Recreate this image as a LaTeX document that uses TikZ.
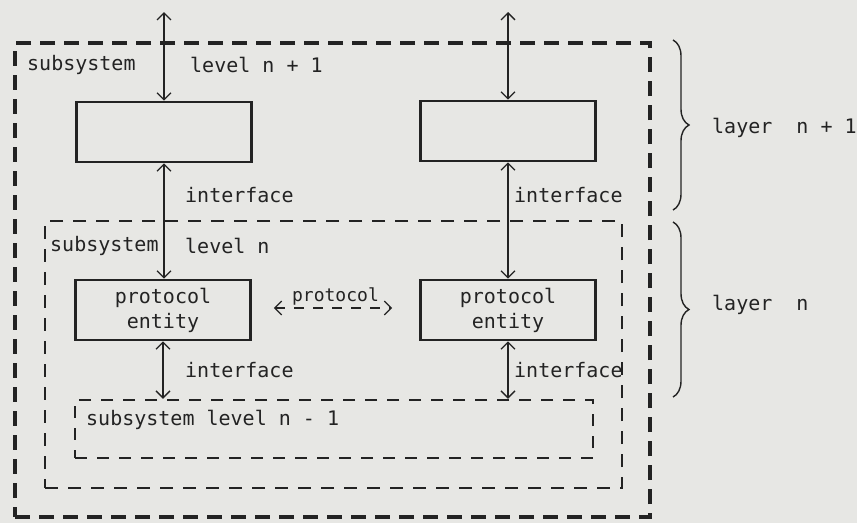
\documentclass[tikz,border=0pt]{standalone}
\usepackage{fontspec}
\setmonofont{DejaVu Sans Mono}
\usetikzlibrary{arrows.meta, positioning, decorations.pathreplacing}
\definecolor{PaperGrey}{RGB}{231,231,228}
\definecolor{InkBlack}{RGB}{35,35,35}

\begin{document}
\begin{tikzpicture}[
    x=1pt, y=-1pt,
    font=\fontsize{20}{25}\selectfont\ttfamily,
    entity/.style={draw=InkBlack, line width=2.6pt, minimum width=175pt, minimum height=60pt, align=center, inner sep=0pt, text=InkBlack},
    outerbox/.style={draw=InkBlack, line width=4pt, dash pattern=on 15pt off 9pt, inner sep=0pt},
    midbox/.style={draw=InkBlack, line width=2.6pt, dash pattern=on 13pt off 10pt, inner sep=0pt},
    lowbox/.style={draw=InkBlack, line width=2.4pt, dash pattern=on 12pt off 10pt, inner sep=0pt},
    link/.style={InkBlack, line width=1.3pt, {Straight Barb[length=7pt,width=14pt]}-{Straight Barb[length=7pt,width=14pt]}},
    lbl/.style={inner sep=0pt, anchor=west, text=InkBlack},
    layerbrace/.style={draw=InkBlack, line width=1.4pt, decorate, decoration={brace, amplitude=16pt}}
]
    \fill[PaperGrey] (0,0) rectangle (857,523);
    \useasboundingbox (0,0) rectangle (857,523);

    % Subsystem boxes
    \node[outerbox, minimum width=635pt, minimum height=474pt] (sysup) at (332.5,280) {};
    \node[midbox, minimum width=577pt, minimum height=267pt] (sysmid) at (333.5,354.5) {};
    \node[lowbox, minimum width=518pt, minimum height=58pt] (syslow) at (334,429) {};

    % Entities
    \node[entity] (upL) at (164,132) {};
    \node[entity] (upR) at (508,131) {};
    \node[entity] (entL) at (163,310) {protocol\\entity};
    \node[entity] (entR) at (508,310) {protocol\\entity};

    \coordinate (topL) at (164,12);
    \coordinate (topR) at (508,12);

    % Labels
    \node[lbl] (lsubup) at (27,65) {subsystem};
    \node[lbl] (llevup) at (190,65) {level n + 1};
    \node[lbl] (lifL1) at (185,195) {interface};
    \node[lbl] (lifR1) at (514,195) {interface};
    \node[lbl] (lsubmid) at (50,246) {subsystem};
    \node[lbl] (llevmid) at (185,246) {level n};
    \node[lbl] (lifL2) at (185,370) {interface};
    \node[lbl] (lifR2) at (514,370) {interface};
    \node[lbl] (lsublow) at (86,420) {subsystem level n - 1};
    \node[lbl] (llayup) at (712,128) {layer\ \ n + 1};
    \node[lbl] (llaymid) at (712,305) {layer\ \ n};

    % Connectors
    \draw[link] (topL) -- (upL.north);
    \draw[link] (topR) -- (upR.north);
    \draw[link] (upL.south) -- (entL.north -| upL.south);
    \draw[link] (upR.south) -- (entR.north);
    \draw[link] (entL.south) -- (entL.south |- syslow.north);
    \draw[link] (entR.south) -- (entR.south |- syslow.north);
    \draw[link, dash pattern=on 10pt off 9pt, shorten <=22pt, shorten >=27pt] ([yshift=2pt]entL.east) -- node[midway, above=2pt, inner sep=0pt, text=InkBlack, font=\fontsize{18}{22}\selectfont\ttfamily] {protocol} ([yshift=2pt]entR.west);

    % Layers
    \draw[layerbrace] (673,40) -- (673,210);
    \draw[layerbrace] (673,222) -- (673,397);
\end{tikzpicture}
\end{document}
